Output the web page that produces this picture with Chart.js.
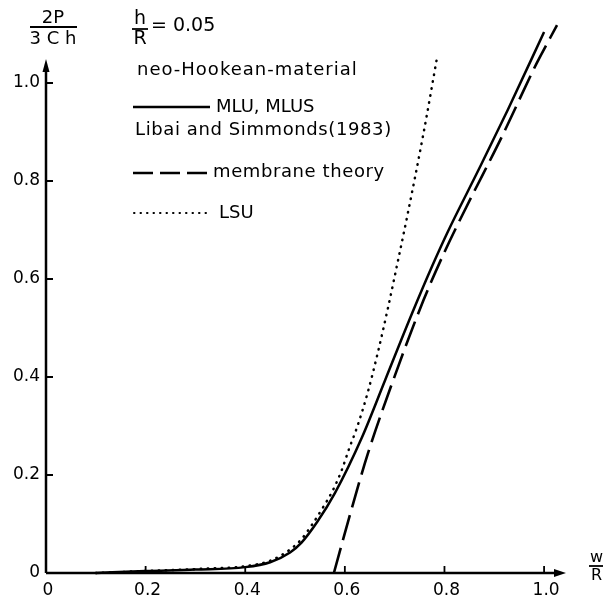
<!DOCTYPE html>
<html>
<head>
<meta charset="utf-8">
<script src="https://cdn.jsdelivr.net/npm/chart.js@4.4.1/dist/chart.umd.min.js"></script>
<style>
    html, body { margin: 0; padding: 0; background: #fff; }
    #wrap { width: 603px; height: 602px; }
</style>
</head>
<body>
<div id="wrap"><canvas id="chart" width="603" height="602"></canvas></div>
<script>
// 刻度
const xTickValues = [0, 0.2, 0.4, 0.6, 0.8, 1.0];
const xTickLabels = ['0', '0.2', '0.4', '0.6', '0.8', '1.0'];
const yTickValues = [0, 0.2, 0.4, 0.6, 0.8, 1.0];
const yTickLabels = ['0', '0.2', '0.4', '0.6', '0.8', '1.0'];

// MLU, MLUS / Libai and Simmonds (1983)
const mluX = [0.10, 0.20, 0.30, 0.40, 0.45, 0.49, 0.513, 0.545, 0.58, 0.634, 0.681, 0.735, 0.776, 0.806, 0.872, 0.927, 1.0];
const mluY = [0.0, 0.004, 0.007, 0.012, 0.022, 0.042, 0.062, 0.105, 0.163, 0.276, 0.394, 0.530, 0.628, 0.695, 0.83, 0.945, 1.104];

// membrane theory
const membraneX = [0.578, 0.612, 0.646, 0.703, 0.758, 0.80, 0.843, 0.915, 0.985, 1.026];
const membraneY = [0.0, 0.125, 0.243, 0.41, 0.557, 0.655, 0.745, 0.89, 1.04, 1.118];

// LSU
const lsuX = [0.10, 0.20, 0.30, 0.40, 0.45, 0.49, 0.512, 0.535, 0.558, 0.575, 0.593, 0.609, 0.624, 0.645, 0.666, 0.687, 0.707, 0.725, 0.758, 0.786];
const lsuY = [0.0, 0.004, 0.008, 0.014, 0.025, 0.048, 0.068, 0.10, 0.137, 0.167, 0.208, 0.255, 0.296, 0.365, 0.449, 0.543, 0.639, 0.727, 0.898, 1.057];

const FONT = '"DejaVu Sans", "Liberation Sans", sans-serif';

function toPoints(xs, ys) {
    return xs.map((x, i) => ({ x: x, y: ys[i] }));
}

// 白色背景
const whiteBg = {
    id: 'whiteBg',
    beforeDraw(chart) {
        const ctx = chart.ctx;
        ctx.save();
        ctx.fillStyle = '#fff';
        ctx.fillRect(0, 0, chart.width, chart.height);
        ctx.restore();
    }
};

// 坐标轴、箭头、刻度和文字
const decor = {
    id: 'decor',
    afterDraw(chart) {
        const ctx = chart.ctx;
        const xs = chart.scales.x;
        const ys = chart.scales.y;
        const a = chart.chartArea;
        const x0 = xs.getPixelForValue(0);
        const y0 = ys.getPixelForValue(0);

        ctx.save();
        ctx.strokeStyle = '#000';
        ctx.fillStyle = '#000';
        ctx.lineWidth = 2.5;
        ctx.setLineDash([]);

        // 轴线
        ctx.beginPath();
        ctx.moveTo(x0, y0);
        ctx.lineTo(x0, a.top + 8);
        ctx.moveTo(x0, y0);
        ctx.lineTo(a.right - 8, y0);
        ctx.stroke();

        // 箭头
        ctx.beginPath();
        ctx.moveTo(x0, a.top);
        ctx.lineTo(x0 - 3.5, a.top + 13);
        ctx.lineTo(x0 + 3.5, a.top + 13);
        ctx.closePath();
        ctx.fill();
        ctx.beginPath();
        ctx.moveTo(a.right, y0);
        ctx.lineTo(a.right - 12, y0 - 4);
        ctx.lineTo(a.right - 12, y0 + 4);
        ctx.closePath();
        ctx.fill();

        // 刻度线
        ctx.lineWidth = 1.8;
        ctx.beginPath();
        yTickValues.forEach(v => {
            if (v === 0) return;
            const y = ys.getPixelForValue(v);
            ctx.moveTo(x0, y);
            ctx.lineTo(x0 + 7, y);
        });
        xTickValues.forEach(v => {
            if (v === 0) return;
            const x = xs.getPixelForValue(v);
            ctx.moveTo(x, y0);
            ctx.lineTo(x, y0 - 7);
        });
        ctx.stroke();

        // 刻度标签
        ctx.font = '17px ' + FONT;
        ctx.textBaseline = 'middle';
        ctx.textAlign = 'right';
        yTickValues.forEach((v, i) => {
            ctx.fillText(yTickLabels[i], x0 - 6, ys.getPixelForValue(v));
        });
        ctx.textAlign = 'center';
        xTickValues.forEach((v, i) => {
            ctx.fillText(xTickLabels[i], xs.getPixelForValue(v) + 2, y0 + 18);
        });

        // 轴标题 2P / 3Ch
        ctx.font = '18px ' + FONT;
        ctx.fillText('2P', 53, 18);
        ctx.fillText('3 C h', 53, 39);
        ctx.lineWidth = 1.8;
        ctx.beginPath();
        ctx.moveTo(30, 27);
        ctx.lineTo(77, 27);
        ctx.stroke();

        // w / R
        ctx.font = '16px ' + FONT;
        ctx.textAlign = 'left';
        ctx.fillText('w', 590, 558);
        ctx.fillText('R', 591, 576);
        ctx.beginPath();
        ctx.moveTo(589, 566);
        ctx.lineTo(603, 566);
        ctx.stroke();

        // h / R = 0.05
        ctx.font = '19px ' + FONT;
        ctx.textAlign = 'center';
        ctx.fillText('h', 140, 19);
        ctx.fillText('R', 140, 39);
        ctx.beginPath();
        ctx.moveTo(132, 29);
        ctx.lineTo(148, 29);
        ctx.stroke();
        ctx.textAlign = 'left';
        ctx.fillText('= 0.05', 151, 26);

        // 图例
        ctx.font = '18px ' + FONT;
        ctx.letterSpacing = '1px';
        ctx.fillText('neo-Hookean-material', 137, 70);
        ctx.letterSpacing = '0px';

        ctx.lineWidth = 2.5;
        ctx.beginPath();
        ctx.moveTo(133, 107);
        ctx.lineTo(210, 107);
        ctx.stroke();
        ctx.fillText('MLU, MLUS', 216, 107);
        ctx.letterSpacing = '0.6px';
        ctx.fillText('Libai and Simmonds(1983)', 135, 130);
        ctx.fillText('membrane theory', 213, 172);
        ctx.letterSpacing = '0px';

        ctx.setLineDash([20, 7]);
        ctx.beginPath();
        ctx.moveTo(133, 173);
        ctx.lineTo(210, 173);
        ctx.stroke();
        ctx.setLineDash([]);

        ctx.lineCap = 'round';
        ctx.setLineDash([0.5, 6]);
        ctx.lineWidth = 2;
        ctx.beginPath();
        ctx.moveTo(134, 213);
        ctx.lineTo(208, 213);
        ctx.stroke();
        ctx.setLineDash([]);
        ctx.fillText('LSU', 219, 213);

        ctx.restore();
    }
};

const ctx = document.getElementById('chart');
new Chart(ctx, {
    type: 'line',
    data: {
        datasets: [{
            label: 'MLU, MLUS',
            data: toPoints(mluX, mluY),
            borderColor: '#000',
            borderWidth: 2.5,
            pointRadius: 0,
            cubicInterpolationMode: 'monotone',
            clip: false
        }, {
            label: 'membrane theory',
            data: toPoints(membraneX, membraneY),
            borderColor: '#000',
            borderWidth: 2.6,
            borderDash: [26, 8],
            pointRadius: 0,
            cubicInterpolationMode: 'monotone',
            clip: false
        }, {
            label: 'LSU',
            data: toPoints(lsuX, lsuY),
            borderColor: '#000',
            borderWidth: 2.5,
            borderDash: [0.5, 6.5],
            borderCapStyle: 'round',
            pointRadius: 0,
            cubicInterpolationMode: 'monotone',
            clip: false
        }]
    },
    options: {
        responsive: false,
        animation: false,
        events: [],
        layout: {
            padding: { left: 46, right: 37, top: 59, bottom: 29 }
        },
        plugins: {
            legend: { display: false },
            tooltip: { enabled: false }
        },
        scales: {
            x: {
                type: 'linear',
                min: 0,
                max: 1.044,
                display: false
            },
            y: {
                type: 'linear',
                min: 0,
                max: 1.049,
                display: false
            }
        }
    },
    plugins: [whiteBg, decor]
});
</script>
</body>
</html>
